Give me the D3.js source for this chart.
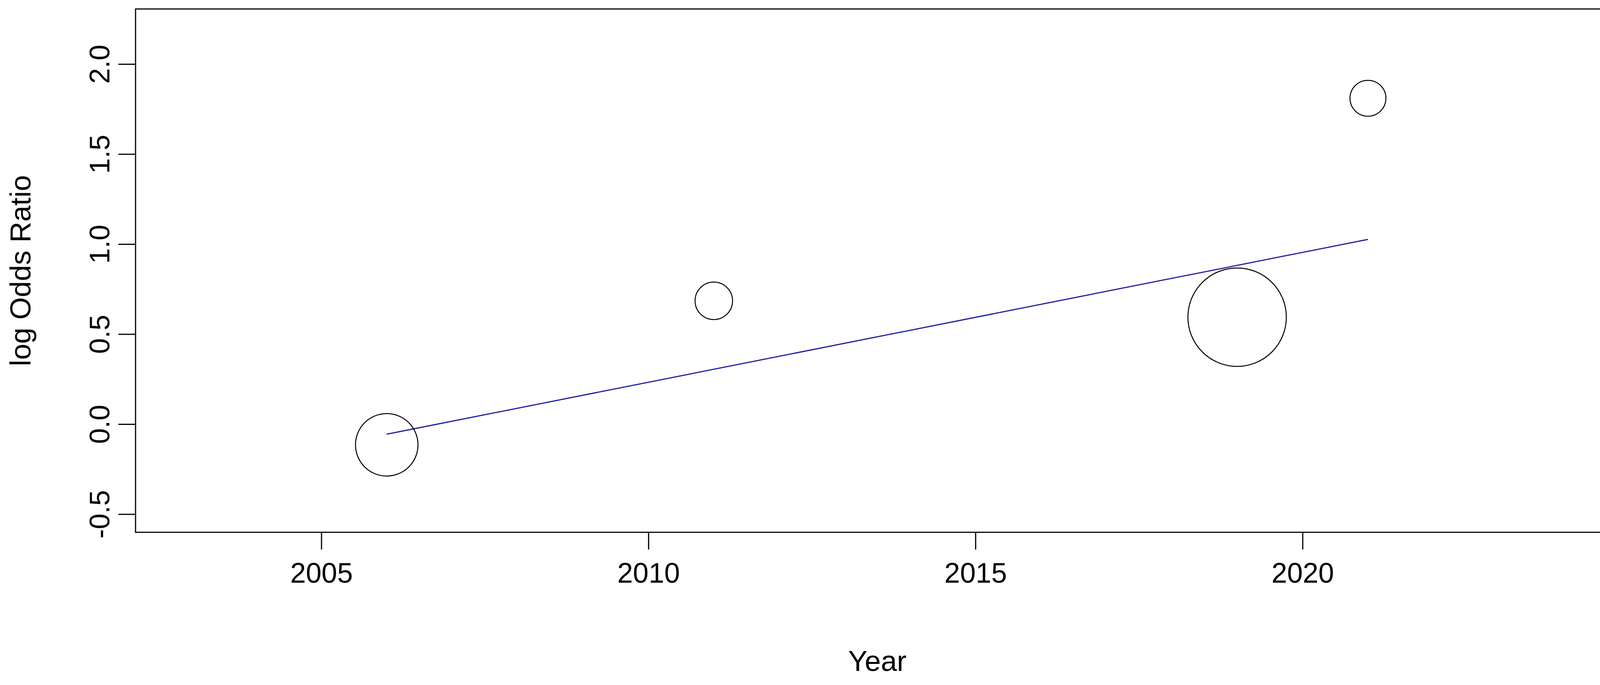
<!DOCTYPE html><html><head><meta charset="utf-8"><script src="https://cdn.jsdelivr.net/npm/d3@7"></script>
<style>body{margin:0;background:#fff}text{font-family:"Liberation Sans",Arial,sans-serif;fill:#000}</style></head><body>
<script>
const years=[2006,2011,2019,2021];
const logOR=[-0.115,0.685,0.594,1.81];
const radii=[80,48,126,46];
const fitYears=[2006,2021];
const fitValues=[-0.056,1.026];
const xTicks=[2005,2010,2015,2020];
const yTicks=[-0.5,0,0.5,1,1.5,2];
const W=4196,H=1754,L=347,R=4145,T=23,B=1363;
const svg=d3.select("body").append("svg").attr("width",W).attr("height",H);
const x=d3.scaleLinear().domain([2002.16,2024.84]).range([L,R]);
const y=d3.scaleLinear().domain([-0.601,2.306]).range([B,T]);
svg.append("rect").attr("x",L).attr("y",T).attr("width",R-L).attr("height",B-T).attr("fill","none").attr("stroke","#000").attr("stroke-width",3);
const xa=svg.append("g").attr("transform",`translate(0,${B})`).call(d3.axisBottom(x).tickValues(xTicks).tickFormat(d3.format("d")).tickSize(44).tickPadding(34));
xa.select(".domain").remove();
xa.selectAll("line").attr("stroke-width",3);
xa.selectAll("text").attr("font-size",72);
const ya=svg.append("g").attr("transform",`translate(${L},0)`).call(d3.axisLeft(y).tickValues(yTicks).tickFormat(d=>d3.format(".1f")(d).replace("−","-")).tickSize(44).tickPadding(0));
ya.select(".domain").remove();
ya.selectAll("line").attr("stroke-width",3);
ya.selectAll("text").attr("font-size",72).attr("text-anchor","middle").attr("dy",null).attr("x",null)
  .attr("transform","translate(-92,0) rotate(-90)").attr("dominant-baseline","central");
svg.append("line").attr("x1",x(fitYears[0])).attr("y1",y(fitValues[0])).attr("x2",x(fitYears[1])).attr("y2",y(fitValues[1])).attr("stroke","#2020a0").attr("stroke-width",3);
svg.selectAll("circle.p").data(years).enter().append("circle").attr("cx",d=>x(d)).attr("cy",(d,i)=>y(logOR[i])).attr("r",(d,i)=>radii[i]).attr("fill","none").attr("stroke","#000").attr("stroke-width",2.5);
svg.append("text").attr("x",(L+R)/2).attr("y",1718).attr("text-anchor","middle").attr("font-size",74).text("Year");
svg.append("text").attr("transform",`translate(52,${(T+B)/2}) rotate(-90)`).attr("text-anchor","middle").attr("dominant-baseline","central").attr("font-size",74).text("log Odds Ratio");
</script></body></html>
